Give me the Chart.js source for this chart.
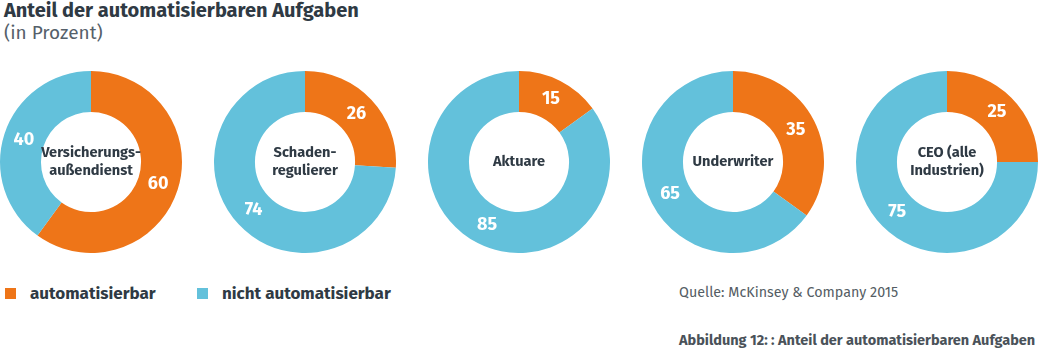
<!DOCTYPE html>
<html>
<head>
<meta charset="utf-8">
<script src="https://cdn.jsdelivr.net/npm/chart.js@4"></script>
<style>
  body { margin: 0; background: #fff; font-family: "Fira Sans", Lato, "Open Sans", sans-serif; color: #2f3a44; }
  #page { position: relative; width: 1039px; height: 352px; overflow: hidden; }
  .title { position: absolute; left: 4px; top: -2px; font-size: 20px; font-weight: 700; }
  .subtitle { position: absolute; left: 4px; top: 21px; font-size: 19px; color: #55606a; }
  .donut { position: absolute; top: 71px; width: 182px; height: 182px; }
  .legend { position: absolute; top: 283px; font-size: 17px; font-weight: 700; }
  .legend span.box { position: absolute; left: 0; top: 5px; width: 11px; height: 11px; }
  .legend span.txt { position: absolute; left: 25px; top: 0; white-space: nowrap; }
  .source { position: absolute; left: 679px; top: 284px; font-size: 14.3px; color: #555d64; }
  .caption { position: absolute; left: 679px; top: 331px; font-size: 14.5px; font-weight: 700; color: #4a5259; }
</style>
</head>
<body>
<div id="page">
  <div class="title">Anteil der automatisierbaren Aufgaben</div>
  <div class="subtitle">(in Prozent)</div>
  <div id="legend"></div>
  <div class="source">Quelle: McKinsey &amp; Company 2015</div>
  <div class="caption">Abbildung 12: : Anteil der automatisierbaren Aufgaben</div>
</div>
<script>
const categories = [
  ["Versicherungs-", "außendienst"],
  ["Schaden-", "regulierer"],
  ["Aktuare"],
  ["Underwriter"],
  ["CEO (alle", "Industrien)"]
];
const seriesLabels = ["automatisierbar", "nicht automatisierbar"];
const automatisierbar = [60, 26, 15, 35, 25];
const nichtAutomatisierbar = [40, 74, 85, 65, 75];
const colors = ["#ee7518", "#63c1db"];

const page = document.getElementById("page");
const legend = document.getElementById("legend");
const legendLeft = [5, 197];
seriesLabels.forEach(function (label, i) {
  const item = document.createElement("div");
  item.className = "legend";
  item.style.left = legendLeft[i] + "px";
  item.innerHTML = '<span class="box" style="background:' + colors[i] + '"></span><span class="txt">' + label + '</span>';
  legend.appendChild(item);
});

const labelsPlugin = {
  id: "donutLabels",
  afterDatasetsDraw(chart) {
    const ctx = chart.ctx;
    const meta = chart.getDatasetMeta(0);
    ctx.save();
    ctx.textAlign = "center";
    ctx.textBaseline = "middle";
    ctx.fillStyle = "#ffffff";
    ctx.font = "700 18px 'Fira Sans', Lato, 'Open Sans', sans-serif";
    meta.data.forEach(function (arc, i) {
      const pos = arc.tooltipPosition();
      ctx.fillText(chart.data.datasets[0].data[i], pos.x, pos.y);
    });
    const lines = chart.options.plugins.centerText.lines;
    const cx = meta.data[0].x, cy = meta.data[0].y;
    ctx.fillStyle = "#2f3a44";
    ctx.font = "700 14.6px 'Fira Sans', Lato, 'Open Sans', sans-serif";
    const lh = 18;
    lines.forEach(function (line, j) {
      ctx.fillText(line, cx, cy + (j - (lines.length - 1) / 2) * lh);
    });
    ctx.restore();
  }
};

const centers = [91, 305, 519, 733, 947];
categories.forEach(function (cat, i) {
  const wrap = document.createElement("div");
  wrap.className = "donut";
  wrap.style.left = (centers[i] - 91) + "px";
  const canvas = document.createElement("canvas");
  wrap.appendChild(canvas);
  page.appendChild(wrap);
  new Chart(canvas.getContext("2d"), {
    type: "doughnut",
    data: {
      labels: seriesLabels,
      datasets: [{
        data: [automatisierbar[i], nichtAutomatisierbar[i]],
        backgroundColor: colors,
        borderWidth: 0
      }]
    },
    options: {
      responsive: true,
      maintainAspectRatio: false,
      animation: false,
      cutout: "55%",
      layout: { padding: 0 },
      plugins: {
        legend: { display: false },
        tooltip: { enabled: false },
        centerText: { lines: cat }
      }
    },
    plugins: [labelsPlugin]
  });
});
</script>
</body>
</html>
